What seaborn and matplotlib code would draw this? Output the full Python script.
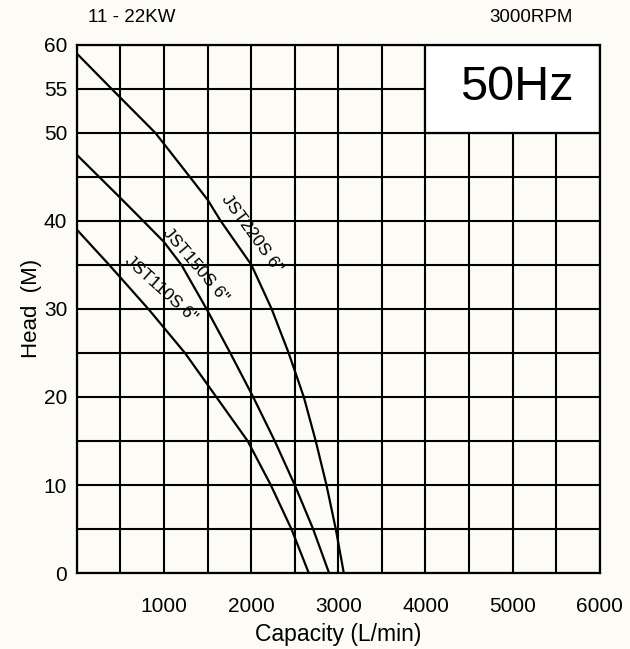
import numpy as np
import pandas as pd
import matplotlib
matplotlib.use("Agg")
import matplotlib.pyplot as plt
import seaborn as sns
from matplotlib.patches import Rectangle

# ---- data ----
q_220 = [0, 398, 900, 1296, 1500, 1650, 2003, 2235, 2430, 2604, 2741, 2864, 2971, 3063]
h_220 = [59.0, 55, 50, 45, 42.4, 40, 35, 30, 25, 20, 15, 10, 5, 0]

q_150 = [0, 500, 761, 1000, 1200, 1488, 1760, 2023, 2271, 2500, 2711, 2894]
h_150 = [47.5, 42.6, 40, 37.6, 35, 30, 25, 20, 15, 10, 5, 0]

q_110 = [0, 371, 820, 1240, 1600, 1960, 2225, 2462, 2661]
h_110 = [39.0, 35, 30, 25, 20, 15, 10, 5, 0]

models = ['JST220S 6"', 'JST150S 6"', 'JST110S 6"']
x_ticks = [1000, 2000, 3000, 4000, 5000, 6000]
y_ticks = [0, 10, 20, 30, 40, 50, 55, 60]

df = pd.concat([
    pd.DataFrame({"Q": q_220, "H": h_220, "model": models[0]}),
    pd.DataFrame({"Q": q_150, "H": h_150, "model": models[1]}),
    pd.DataFrame({"Q": q_110, "H": h_110, "model": models[2]}),
])

sns.set_theme(style="white")
plt.rcParams["font.family"] = ["Liberation Sans", "DejaVu Sans"]
plt.rcParams["text.color"] = "black"
plt.rcParams["axes.labelcolor"] = "black"
plt.rcParams["xtick.color"] = "black"
plt.rcParams["ytick.color"] = "black"

bg = "#fcfbf6"
fig = plt.figure(figsize=(6.30, 6.49), dpi=100, facecolor=bg)
ax = fig.add_axes([0.122, 0.117, 0.830, 0.814])
ax.set_facecolor(bg)

ax.set_xlim(0, 6000)
ax.set_ylim(0, 60)

ax.set_xticks(x_ticks)
ax.set_xticklabels([str(v) for v in x_ticks])
ax.set_yticks(y_ticks)
ax.set_yticklabels([str(v) for v in y_ticks])
# grid every 500 L/min and 5 m
ax.set_xticks(np.arange(0, 6001, 500), minor=True)
ax.set_yticks(np.arange(0, 61, 5), minor=True)
ax.grid(which="both", color="black", linewidth=1.5)
ax.set_axisbelow(True)

ax.tick_params(which="both", length=0)
ax.tick_params(axis="x", pad=17, labelsize=15)
ax.tick_params(axis="y", pad=7, labelsize=15)

for s in ax.spines.values():
    s.set_color("black")
    s.set_linewidth(1.6)

# 50Hz box
ax.add_patch(Rectangle((4000, 50), 2000, 10, facecolor="white",
                       edgecolor="black", linewidth=1.6, zorder=2))
ax.text(5050, 55.1, "50Hz", fontsize=35, ha="center", va="center", zorder=3)

sns.lineplot(data=df, x="Q", y="H", hue="model", units="model",
             estimator=None, sort=False,
             palette=["black"] * 3, linewidth=1.6, legend=False, ax=ax, zorder=4)

# curve labels
ax.text(2005, 38.6, models[0], rotation=-54, rotation_mode="anchor",
        ha="center", va="center", fontsize=12.5, zorder=5)
ax.text(1355, 35.0, models[1], rotation=-49.5, rotation_mode="anchor",
        ha="center", va="center", fontsize=12.5, zorder=5)
ax.text(965, 32.2, models[2], rotation=-42, rotation_mode="anchor",
        ha="center", va="center", fontsize=12.5, zorder=5)

ax.set_xlabel("Capacity (L/min)", fontsize=16.5, labelpad=5)
ax.set_ylabel("Head  (M)", fontsize=16, labelpad=1)

fig.text(88 / 630, 1 - 18 / 649, "11 - 22KW", fontsize=13.5, ha="left", va="center")
fig.text(531 / 630, 1 - 18 / 649, "3000RPM", fontsize=13.5, ha="center", va="center")

fig.savefig("out.png", dpi=100, facecolor=bg)
